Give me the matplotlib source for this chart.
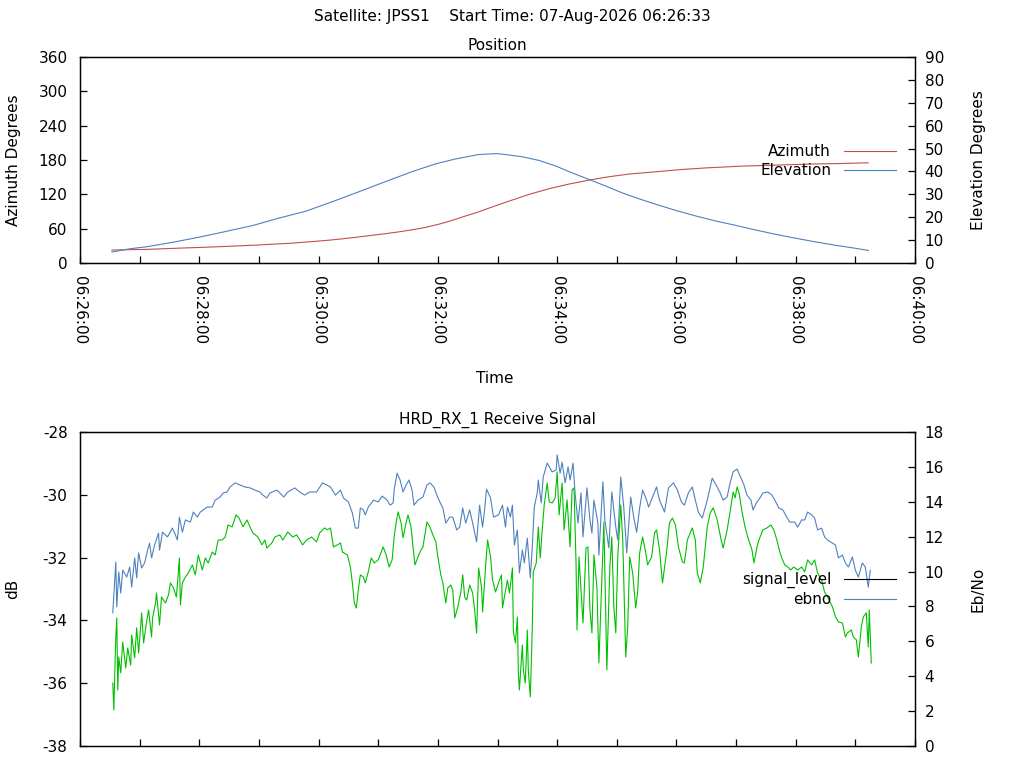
import matplotlib
matplotlib.use("Agg")
import matplotlib.pyplot as plt
import matplotlib.dates as mdates
from matplotlib.lines import Line2D
import numpy as np
import pandas as pd

plt.rcParams['font.family'] = ['DejaVu Sans']
plt.rcParams['font.size'] = 11
plt.rcParams['axes.unicode_minus'] = False

satellite = "JPSS1"
start_label = "07-Aug-2026 06:26:33"
base_time = "2026-08-07 06:26:00"
end_minutes = 14

# ---- Position (seconds after 06:26:00) ----
az_t = [32, 67, 102, 130, 155, 177, 195, 212, 227, 240, 250, 262, 277, 290, 307, 320, 334,
        347, 361, 374, 387, 401, 411, 421, 432, 452, 472, 492, 512, 532, 552, 579, 606, 632,
        666, 699, 733, 766, 793]
az_deg = [22.6, 23.8, 26.1, 27.8, 29.6, 31.3, 33.0, 34.5, 36.6, 38.3, 39.8, 41.9, 44.8, 47.6,
          51.2, 54.2, 58.0, 62.0, 67.8, 74.2, 81.7, 89.3, 95.7, 101.8, 108.4, 120.0, 129.9,
          138.0, 144.9, 150.7, 155.4, 159.4, 163.5, 166.4, 169.3, 171.0, 172.8, 173.9, 175.1]
el_t = [32, 50, 67, 94, 120, 147, 174, 200, 227, 254, 281, 307, 334, 357, 377, 401, 419, 428,
        445, 462, 479, 495, 512, 529, 545, 562, 579, 599, 619, 639, 659, 679, 699, 719, 739,
        759, 779, 793]
el_deg = [4.8, 6.2, 7.1, 9.1, 11.3, 13.8, 16.4, 19.6, 22.6, 26.8, 31.2, 35.5, 39.9, 43.2, 45.4,
          47.4, 47.8, 47.4, 46.4, 44.8, 42.3, 39.4, 36.5, 33.6, 30.7, 28.1, 25.7, 23.0, 20.6,
          18.4, 16.5, 14.5, 12.6, 10.9, 9.3, 7.8, 6.5, 5.5]

# ---- Receive signal ----
sig_t = [33, 36, 37, 39, 41, 43, 47, 50, 52, 55, 57, 59, 62, 65, 68, 70, 72, 75, 79, 80, 83,
         88, 93, 96, 98, 100, 103, 106, 111, 114, 118, 121, 128, 133, 136, 141, 144, 148, 151,
         156, 161, 166, 171, 176, 181, 184, 188, 191, 198, 201, 205, 209, 216, 221, 226, 231,
         238, 244, 252, 257, 262, 265, 270, 274, 277, 280, 282, 285, 287, 290, 294, 295, 300,
         304, 309, 312, 315, 316, 319, 322, 325, 328, 331, 334, 336, 340, 345, 349, 352, 356,
         359, 362, 365, 368, 372, 375, 379, 382, 385, 388, 392, 395, 399, 402, 405, 407, 409,
         413, 416, 421, 425, 428, 430, 433, 435, 437, 440, 442, 445, 447, 450, 453, 455, 457,
         460, 461, 464, 466, 470, 475, 479, 480, 483, 485, 488, 491, 493, 496, 498, 501, 504,
         506, 510, 513, 515, 517, 521, 522, 526, 528, 532, 535, 539, 541, 544, 547, 550, 554,
         557, 560, 563, 566, 570, 572, 576, 580, 583, 588, 592, 597, 601, 605, 608, 612, 616,
         619, 622, 626, 631, 636, 641, 644, 647, 651, 654, 657, 661, 665, 668, 671, 675, 677,
         681, 684, 687, 692, 696, 699, 703, 707, 711, 714, 719, 722, 726, 729, 732, 736, 739,
         742, 746, 749, 752, 757, 760, 763, 767, 770, 773, 777, 780, 783, 787, 790, 793, 795]
sig_db = [-33.76, -32.14, -33.57, -32.46, -33.13, -32.40, -32.62, -32.30, -32.94, -32.01, -32.65,
          -31.85, -32.33, -32.17, -31.76, -31.54, -32.01, -31.60, -31.22, -31.76, -31.19, -31.34,
          -31.06, -31.28, -31.44, -30.71, -31.19, -30.80, -30.87, -30.55, -30.71, -30.55, -30.39,
          -30.39, -30.17, -30.07, -29.94, -29.91, -29.75, -29.62, -29.69, -29.75, -29.78, -29.85,
          -29.91, -30.01, -30.10, -29.94, -29.85, -29.94, -30.07, -29.91, -29.78, -29.91, -30.01,
          -29.91, -29.91, -29.62, -29.75, -30.01, -29.85, -30.10, -30.23, -30.58, -31.06, -31.06,
          -30.42, -30.48, -30.64, -30.39, -30.23, -30.17, -30.23, -30.04, -30.17, -30.33, -30.26,
          -29.85, -29.31, -29.53, -29.91, -29.69, -29.53, -29.85, -30.33, -30.17, -30.07, -29.69,
          -29.62, -29.75, -30.01, -30.23, -30.42, -30.90, -30.71, -30.71, -31.12, -31.03, -30.42,
          -30.90, -30.48, -30.90, -31.50, -30.33, -31.03, -30.48, -29.82, -30.10, -30.71, -30.64,
          -30.33, -31.03, -30.39, -30.71, -30.33, -31.60, -31.12, -32.49, -31.76, -32.17, -31.38,
          -32.65, -31.66, -30.39, -29.94, -29.53, -30.26, -29.43, -28.99, -29.27, -29.21, -28.73,
          -29.31, -28.96, -29.62, -29.11, -29.53, -28.99, -29.94, -30.90, -29.94, -31.34, -29.78,
          -30.80, -31.22, -30.17, -30.90, -31.92, -29.59, -30.80, -31.69, -29.91, -31.03, -31.44,
          -29.43, -30.39, -31.85, -30.07, -30.71, -31.19, -30.42, -29.85, -30.17, -30.39, -30.07,
          -29.75, -30.17, -30.55, -29.78, -29.62, -29.85, -30.23, -30.33, -29.94, -29.75, -30.17,
          -30.55, -30.74, -30.17, -29.47, -29.75, -29.94, -30.17, -30.07, -29.62, -29.27, -29.18,
          -29.47, -29.69, -30.01, -30.17, -30.48, -30.23, -30.10, -29.94, -29.91, -30.01, -30.17,
          -30.42, -30.48, -30.71, -30.87, -30.87, -31.03, -30.80, -30.80, -30.55, -30.64, -30.74,
          -31.12, -31.06, -31.34, -31.44, -31.54, -31.60, -32.01, -31.92, -32.17, -32.30, -31.98,
          -32.40, -32.62, -32.17, -32.30, -32.94, -32.40]
ebno_t = [33, 34, 36, 37, 38, 39, 41, 43, 46, 48, 51, 52, 55, 57, 59, 62, 64, 67, 69, 72, 73,
          76, 77, 80, 82, 86, 89, 91, 94, 97, 100, 101, 103, 106, 109, 113, 116, 119, 123, 126,
          129, 133, 136, 139, 143, 146, 149, 153, 157, 160, 164, 168, 171, 174, 179, 183, 186,
          188, 193, 196, 201, 204, 209, 214, 218, 221, 224, 228, 233, 238, 241, 246, 249, 252,
          255, 259, 262, 264, 269, 272, 274, 276, 278, 280, 282, 285, 287, 290, 293, 296, 300,
          305, 308, 311, 314, 316, 318, 320, 323, 325, 328, 330, 333, 335, 337, 340, 343, 345,
          349, 352, 355, 358, 360, 363, 365, 368, 370, 373, 375, 377, 380, 383, 385, 387, 389,
          392, 395, 397, 399, 401, 404, 405, 408, 410, 413, 415, 418, 421, 424, 425, 430, 432,
          434, 435, 436, 438, 440, 441, 442, 445, 446, 448, 450, 451, 453, 455, 456, 459, 461,
          463, 465, 467, 470, 472, 475, 478, 480, 482, 485, 487, 490, 493, 495, 497, 499, 500,
          502, 505, 506, 509, 511, 513, 515, 517, 520, 522, 525, 527, 528, 530, 533, 535, 537,
          539, 541, 544, 546, 549, 551, 553, 556, 559, 561, 563, 566, 569, 571, 575, 578, 580,
          583, 586, 590, 593, 596, 599, 602, 606, 608, 611, 616, 619, 621, 624, 627, 631, 634,
          637, 641, 645, 647, 651, 654, 657, 659, 661, 663, 666, 669, 672, 676, 678, 681, 683,
          687, 691, 695, 698, 701, 704, 706, 709, 712, 715, 718, 722, 726, 729, 732, 736, 739,
          742, 746, 749, 752, 757, 760, 763, 767, 770, 772, 776, 778, 781, 783, 786, 788, 791,
          793, 794, 796]
ebno_val = [3.61, 2.06, 6.25, 7.34, 3.21, 5.10, 4.19, 5.96, 4.47, 5.62, 4.64, 6.36, 5.05, 6.77,
            5.33, 7.63, 5.91, 7.11, 7.80, 6.25, 7.34, 8.20, 8.77, 6.94, 8.54, 8.20, 8.66, 9.35,
            9.06, 8.54, 10.78, 8.09, 9.35, 9.69, 9.92, 10.38, 9.81, 10.95, 10.09, 10.78, 10.49,
            11.12, 10.95, 11.81, 11.81, 11.98, 12.67, 12.56, 13.25, 13.07, 12.56, 12.96, 12.56,
            12.21, 11.98, 11.53, 11.81, 11.35, 11.64, 11.98, 12.10, 11.81, 12.27, 11.98, 12.10,
            11.81, 11.53, 11.81, 11.98, 11.70, 12.21, 12.50, 12.39, 12.50, 11.41, 11.53, 11.64,
            11.12, 10.95, 10.26, 9.35, 8.20, 7.91, 8.94, 9.81, 9.69, 9.35, 9.98, 10.78, 10.49,
            10.67, 11.41, 10.95, 10.26, 10.67, 11.98, 12.79, 13.42, 12.79, 11.93, 12.79, 13.25,
            12.56, 11.41, 10.38, 10.84, 11.24, 11.41, 12.84, 12.56, 12.10, 11.70, 10.84, 9.81,
            9.35, 8.20, 9.06, 9.23, 8.94, 7.34, 7.97, 8.77, 9.81, 8.54, 8.37, 9.23, 8.77, 7.80,
            6.48, 10.21, 9.06, 7.68, 10.26, 11.81, 10.84, 9.52, 8.83, 9.35, 9.81, 7.91, 9.52,
            8.77, 9.69, 10.21, 6.54, 5.91, 7.40, 4.19, 3.21, 5.79, 4.36, 3.61, 6.65, 4.36, 2.81,
            6.77, 9.98, 10.49, 12.56, 10.78, 12.39, 13.82, 15.08, 13.99, 13.93, 14.22, 15.71,
            13.25, 15.08, 12.39, 14.11, 11.41, 14.68, 14.79, 10.49, 6.65, 10.84, 7.97, 7.05,
            11.35, 11.41, 7.80, 6.48, 10.95, 9.12, 4.76, 9.69, 12.84, 10.09, 4.36, 10.26, 11.98,
            7.97, 6.48, 10.84, 13.82, 11.81, 5.10, 6.82, 10.84, 9.92, 7.91, 8.83, 11.07, 11.98,
            11.12, 10.38, 10.84, 12.21, 12.39, 11.24, 9.35, 11.07, 12.79, 13.07, 12.67, 11.41,
            10.55, 10.49, 11.81, 12.50, 11.81, 9.92, 9.35, 10.26, 12.56, 13.36, 13.65, 12.96,
            11.81, 11.35, 12.39, 13.42, 14.56, 14.22, 14.85, 14.51, 13.42, 12.56, 11.93, 11.24,
            10.49, 11.41, 11.81, 12.39, 12.50, 12.67, 12.39, 11.81, 11.12, 10.78, 10.38, 10.26,
            10.09, 10.26, 10.09, 10.26, 9.98, 10.67, 10.38, 10.67, 9.92, 9.52, 8.83, 8.54, 7.97,
            7.40, 7.11, 7.05, 6.25, 6.48, 6.65, 6.25, 6.08, 5.10, 6.82, 7.40, 7.63, 5.68, 7.80,
            4.76]

az_ticks = list(range(0, 361, 60))
el_ticks = list(range(0, 91, 10))
db_ticks = list(range(-38, -27, 2))
ebno_ticks = list(range(0, 19, 2))

RED = '#c0504d'
BLUE = '#4f81bd'
GREEN = '#00c000'
LW = 0.8


def to_time(secs):
    return (pd.Timestamp(base_time) + pd.to_timedelta(np.asarray(secs), unit='s')).to_pydatetime()


t0 = pd.Timestamp(base_time).to_pydatetime()
t1 = (pd.Timestamp(base_time) + pd.Timedelta(minutes=end_minutes)).to_pydatetime()

W, H = 1024, 768
fig = plt.figure(figsize=(W / 100, H / 100), dpi=100)


def style_axes(ax, axr):
    for a in (ax, axr):
        for s in a.spines.values():
            s.set_linewidth(0.9)
    ax.tick_params(axis='y', direction='in', length=5, width=0.9, right=False, pad=9)
    axr.tick_params(axis='y', direction='in', length=5, width=0.9, left=False, pad=7)
    ax.tick_params(axis='x', which='both', direction='in', length=5, width=0.9, top=False)
    ax.set_xlim(t0, t1)
    ax.xaxis.set_major_locator(mdates.MinuteLocator(byminute=range(0, 60, 2)))
    ax.xaxis.set_minor_locator(mdates.MinuteLocator())
    ax.xaxis.set_major_formatter(mdates.DateFormatter('%H:%M:%S'))


def leg(ax, handles, labels, top_px, bottom_px, height_px):
    ax.legend(handles, labels, loc='upper right', frameon=False,
              markerfirst=False, handlelength=3.4, handletextpad=0.85, labelspacing=0.28,
              borderaxespad=0, borderpad=0,
              bbox_to_anchor=((896 - 80) / 835, (bottom_px - top_px) / height_px))


# ---- top: Position ----
ax1 = fig.add_axes([80 / W, 1 - 263 / H, 835 / W, 206 / H])
ax1r = ax1.twinx()
ax1.plot(to_time(az_t), az_deg, color=RED, lw=LW)
ax1r.plot(to_time(el_t), el_deg, color=BLUE, lw=LW)
ax1.set_ylim(0, 360)
ax1.set_yticks(az_ticks)
ax1r.set_ylim(0, 90)
ax1r.set_yticks(el_ticks)
style_axes(ax1, ax1r)
for lbl in ax1.get_xticklabels():
    lbl.set_rotation(-90)
    lbl.set_ha('center')
    lbl.set_va('top')
ax1.tick_params(axis='x', pad=9)
h1 = [Line2D([], [], color=RED, lw=LW), Line2D([], [], color=BLUE, lw=LW)]
leg(ax1r, h1, ['Azimuth', 'Elevation'], 144, 263, 206)

# ---- bottom: Receive Signal ----
ax2 = fig.add_axes([80 / W, 1 - 746 / H, 835 / W, 314 / H])
ax2r = ax2.twinx()
ax2.plot(to_time(sig_t), sig_db, color=BLUE, lw=LW)
ax2r.plot(to_time(ebno_t), ebno_val, color=GREEN, lw=LW)
ax2.set_ylim(-38, -28)
ax2.set_yticks(db_ticks)
ax2r.set_ylim(0, 18)
ax2r.set_yticks(ebno_ticks)
style_axes(ax2, ax2r)
ax2.tick_params(axis='x', labelbottom=False)
h2 = [Line2D([], [], color='black', lw=LW), Line2D([], [], color=BLUE, lw=LW)]
leg(ax2r, h2, ['signal_level', 'ebno'], 572, 746, 314)

# ---- texts ----
fig.text(512 / W, 1 - 17 / H, f'Satellite: {satellite}    Start Time: {start_label}',
         ha='center', va='center')
fig.text(497 / W, 1 - 46 / H, 'Position', ha='center', va='center')
fig.text(495 / W, 1 - 379 / H, 'Time', ha='center', va='center')
fig.text(497 / W, 1 - 420 / H, 'HRD_RX_1 Receive Signal', ha='center', va='center')
fig.text(14 / W, 1 - 160 / H, 'Azimuth Degrees', rotation=90, ha='center', va='center')
fig.text(978 / W, 1 - 160 / H, 'Elevation Degrees', rotation=90, ha='center', va='center')
fig.text(13 / W, 1 - 589 / H, 'dB', rotation=90, ha='center', va='center')
fig.text(978 / W, 1 - 589 / H, 'Eb/No', rotation=90, ha='center', va='center')

fig.savefig('out.png', dpi=100)
